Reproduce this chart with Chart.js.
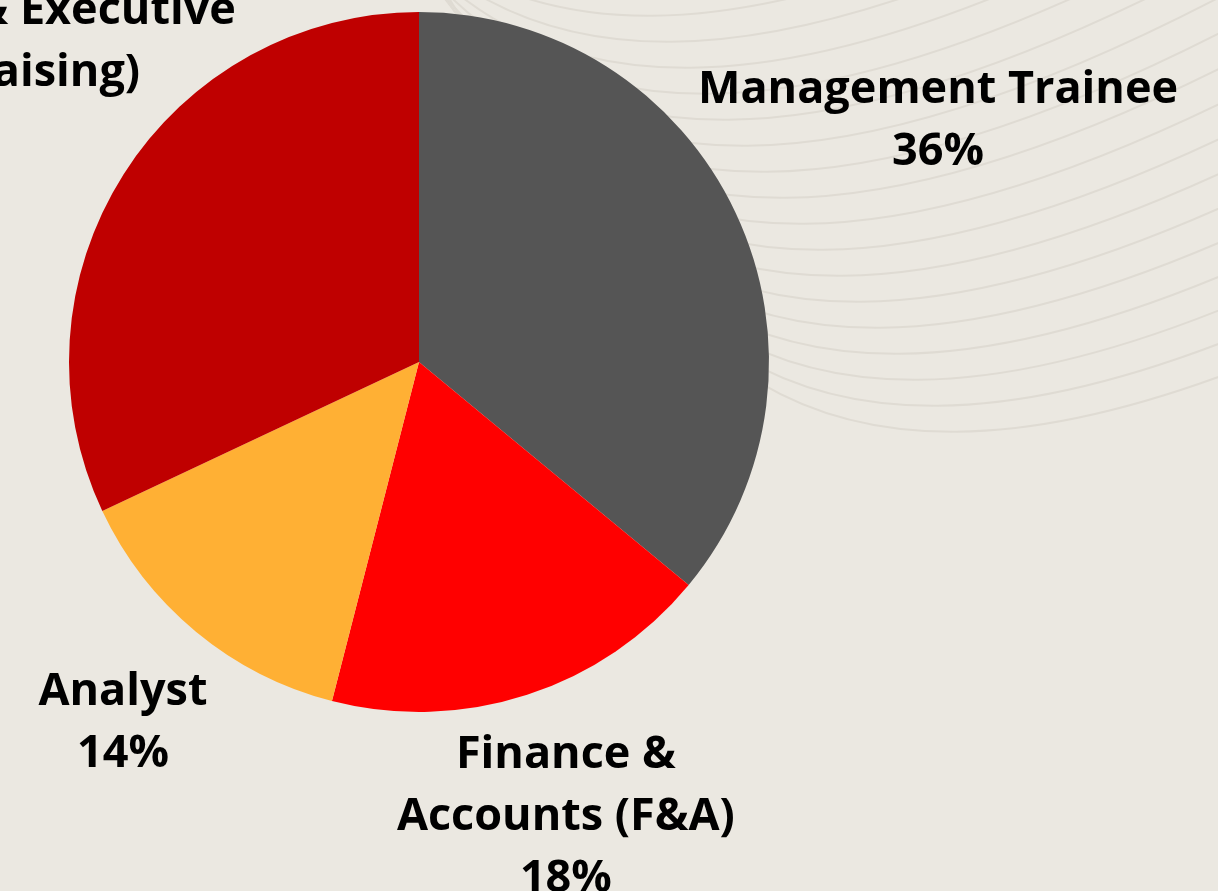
<!DOCTYPE html>
<html>
<head>
<meta charset="utf-8">
<script src="https://cdn.jsdelivr.net/npm/chart.js@4"></script>
<style>
  html, body { margin: 0; padding: 0; background: #ebe8e1; }
  #wrap { width: 1218px; height: 891px; position: relative; }
</style>
</head>
<body>
<div id="wrap"><canvas id="roleChart"></canvas></div>
<script>
// data
const roles = ['Management Trainee', 'Finance & Accounts (F&A)', 'Analyst', 'Associate & Executive (Fundraising)'];
const shares = [36, 18, 14, 32];
const labelLines = [
    ['Management Trainee'],
    ['Finance &', 'Accounts (F&A)'],
    ['Analyst'],
    ['Associate & Executive', '(Fundraising)'],
];
const sliceColors = ['#555555', '#ff0000', '#ffb034', '#bf0000'];

// where each label sits: distance along the slice middle (x radius) + pixel nudge
const labelFactor = [1.639, 1.358, 1.327, 1.43];
const labelNudge = [[0, 0], [0, 0], [0, 0], [-4, -86]];
const percentFirst = [false, false, false, true];

const FONT_SIZE = 45;
const LINE_H = 62;

// faint curved lines in the background
const backdrop = {
    id: 'backdrop',
    beforeDatasetsDraw(chart) {
        const ctx = chart.ctx;
        ctx.save();
        ctx.strokeStyle = '#dfdbd3';
        ctx.lineWidth = 2;
        for (let i = 0; i < 28; i++) {
            const bx = 900 - 19 * i;
            const by = 492 - 26 * i;
            ctx.beginPath();
            ctx.moveTo(bx - 280, by - 260);
            ctx.bezierCurveTo(bx - 130, by + 8, bx + 160, by + 8, bx + 640, by - 270);
            ctx.stroke();
        }
        ctx.restore();
    }
};

// labels with percentages outside the slices
const outsideLabels = {
    id: 'outsideLabels',
    afterDatasetsDraw(chart) {
        const ctx = chart.ctx;
        const meta = chart.getDatasetMeta(0);
        const total = shares.reduce((a, b) => a + b, 0);
        ctx.save();
        ctx.font = 'bold ' + FONT_SIZE + 'px "Open Sans"';
        ctx.fillStyle = '#000000';
        ctx.textAlign = 'center';
        ctx.textBaseline = 'alphabetic';
        meta.data.forEach((arc, i) => {
            const mid = (arc.startAngle + arc.endAngle) / 2;
            const r = arc.outerRadius * labelFactor[i];
            const cx = arc.x + Math.cos(mid) * r + labelNudge[i][0];
            const cy = arc.y + Math.sin(mid) * r + labelNudge[i][1];
            const pct = Math.round(shares[i] / total * 100) + '%';
            const lines = percentFirst[i] ? [pct, ...labelLines[i]] : [...labelLines[i], pct];
            const first = cy - (lines.length - 1) * LINE_H / 2 + FONT_SIZE * 0.36;
            lines.forEach((t, k) => ctx.fillText(t, cx, first + k * LINE_H));
        });
        ctx.restore();
    }
};

new Chart(document.getElementById('roleChart'), {
    type: 'pie',
    data: {
        labels: roles,
        datasets: [{
            data: shares,
            backgroundColor: sliceColors,
            borderWidth: 0,
        }],
    },
    options: {
        responsive: true,
        maintainAspectRatio: false,
        animation: false,
        layout: {
            padding: { left: 69, right: 449, top: 12, bottom: 179 },
        },
        plugins: {
            legend: { display: false },
            tooltip: { enabled: false },
        },
    },
    plugins: [backdrop, outsideLabels],
});
</script>
</body>
</html>
